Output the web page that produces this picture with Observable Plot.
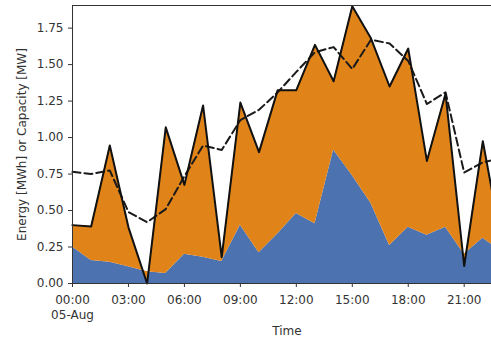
<!DOCTYPE html>
<html><head><meta charset="utf-8">
<script src="https://cdn.jsdelivr.net/npm/d3@7"></script>
<script src="https://cdn.jsdelivr.net/npm/@observablehq/plot@0.6"></script>
<style>
body{margin:0;background:#fff;overflow:hidden}
#chart svg{font-family:"DejaVu Sans",sans-serif}
</style>
</head><body><div id="chart"></div>
<script>
const hours = [0,1,2,3,4,5,6,7,8,9,10,11,12,13,14,15,16,17,18,19,20,21,22,23];
const blue = [0.25,0.157,0.146,0.115,0.08,0.068,0.20,0.18,0.15,0.40,0.21,0.34,0.48,0.41,0.915,0.74,0.55,0.26,0.386,0.33,0.386,0.20,0.31,0.22];
const total = [0.40,0.39,0.945,0.385,0.0,1.07,0.676,1.22,0.18,1.24,0.90,1.325,1.325,1.635,1.386,1.90,1.68,1.35,1.61,0.84,1.30,0.12,0.975,0.28];
const capacity = [0.765,0.75,0.775,0.49,0.42,0.51,0.735,0.945,0.915,1.12,1.19,1.31,1.45,1.585,1.62,1.47,1.67,1.645,1.525,1.23,1.31,0.76,0.83,0.86];
const xTickHours = [0,3,6,9,12,15,18,21];
const yTicks = [0,0.25,0.5,0.75,1.0,1.25,1.5,1.75];
const dateLabel = "05-Aug";
const yLabel = "Energy [MWh] or Capacity [MW]";
const xLabel = "Time";

const t = h => new Date(Date.UTC(2021,7,5,h));
const data = hours.map((h,i)=>({time:t(h), blue:blue[i], total:total[i], cap:capacity[i]}));
const xTicks = xTickHours.map(t);
const fmt = d3.utcFormat("%H:%M");

const chart = Plot.plot({
  width:491, height:341,
  marginLeft:72, marginRight:-10, marginTop:5, marginBottom:58,
  style:{fontFamily:"DejaVu Sans, sans-serif", fontSize:"12px", color:"#333", overflow:"hidden", background:"#fff"},
  x:{type:"utc", domain:[t(0), t(23)]},
  y:{domain:[0,1.905]},
  marks:[
    Plot.areaY(data,{x:"time", y:"blue", fill:"#4c72b0"}),
    Plot.areaY(data,{x:"time", y1:"blue", y2:"total", fill:"#e0841a"}),
    Plot.lineY(data,{x:"time", y:"cap", stroke:"#1a1a1a", strokeWidth:2, strokeDasharray:"8,4"}),
    Plot.lineY(data,{x:"time", y:"total", stroke:"#111", strokeWidth:2}),
    Plot.frame({stroke:"#333"}),
    Plot.axisX(xTicks,{tickSize:4, tickPadding:6, fontSize:12, lineHeight:1.25, label:null,
      tickFormat:(d,i)=> i===0 ? fmt(d)+"\n"+dateLabel : fmt(d)}),
    Plot.axisY(yTicks,{tickSize:4, tickPadding:5, fontSize:12, label:null, tickFormat:d3.format(".2f")}),
    Plot.text([yLabel],{frameAnchor:"left", dx:-50, rotate:-90, textAnchor:"middle", fontSize:12, fill:"#333"}),
    Plot.text([xLabel],{frameAnchor:"bottom", dy:48, textAnchor:"middle", lineAnchor:"middle", fontSize:12, fill:"#333"})
  ]
});
document.getElementById("chart").append(chart);
</script>
</body></html>
